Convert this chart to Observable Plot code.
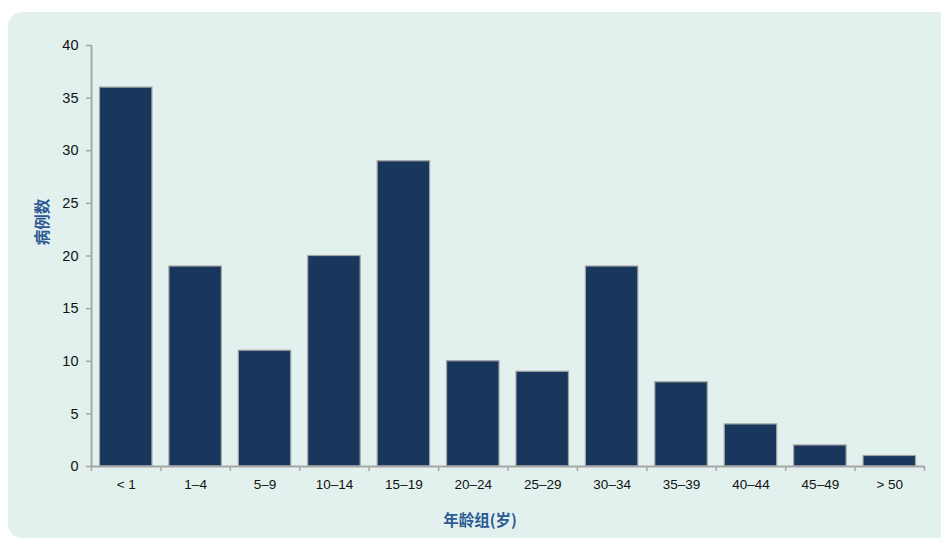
<!DOCTYPE html>
<html><head><meta charset="utf-8">
<script src="https://cdn.jsdelivr.net/npm/d3@7"></script>
<script src="https://cdn.jsdelivr.net/npm/@observablehq/plot@0.6"></script>
<style>
html,body{margin:0;padding:0;background:#fff;}
#wrap{position:relative;width:941px;height:539px;overflow:hidden;}
#panel{position:absolute;left:8px;top:12px;width:945px;height:526px;background:#e2f1ee;border-radius:14px;}
#chart{position:absolute;left:0;top:0;}
.ttl{position:absolute;font-family:"Noto Sans CJK SC","Noto Sans",sans-serif;font-weight:bold;font-size:15.5px;color:#2b5a94;white-space:nowrap;}
#xt{left:480px;top:519px;transform:translate(-50%,-50%);}
#yt{left:41px;top:222px;transform:translate(-50%,-50%) rotate(-90deg);}
</style></head>
<body>
<div id="wrap"><div id="panel"></div><div id="chart"></div>
<div class="ttl" id="xt">年龄组(岁)</div><div class="ttl" id="yt">病例数</div></div>
<script>
const categories = ["< 1","1–4","5–9","10–14","15–19","20–24","25–29","30–34","35–39","40–44","45–49","> 50"];
const cases = [36,19,11,20,29,10,9,19,8,4,2,1];
const yTicks = [0,5,10,15,20,25,30,35,40];

const data = categories.map((c,i)=>({cat:c, i, v:cases[i]}));
const bounds = d3.range(categories.length+1);

const plot = Plot.plot({
  width:941, height:539,
  marginLeft:91, marginRight:17, marginTop:45, marginBottom:73,
  style:{background:"transparent", fontFamily:"'Liberation Sans', Arial, sans-serif", fontSize:"14px", color:"#111"},
  x:{type:"linear", domain:[0,categories.length]},
  y:{type:"linear", domain:[0,40]},
  marks:[
    Plot.rectY(data,{x1:d=>d.i, x2:d=>d.i+1, y1:0, y2:"v", insetLeft:8.5, insetRight:8.5, fill:"#19365c", stroke:"#a3a3a3", strokeWidth:1.2}),
    Plot.axisX({ticks:bounds, tickFormat:()=>"", tickSize:5, stroke:"#a6a6a6", strokeWidth:1.5, label:null}),
    Plot.axisY({ticks:yTicks, tickSize:5, tickPadding:8, stroke:"#a6a6a6", strokeWidth:1.5, fill:"#111", fontSize:14.5, label:null}),
    Plot.ruleY([0],{stroke:"#a6a6a6", strokeWidth:2}),
    Plot.ruleX([0],{stroke:"#a6a6a6", strokeWidth:2}),
    Plot.text(data,{x:d=>d.i+0.5, y:0, text:"cat", dy:18, fill:"#111", fontSize:13.5})
  ]
});
document.getElementById("chart").appendChild(plot);
</script>
</body></html>
